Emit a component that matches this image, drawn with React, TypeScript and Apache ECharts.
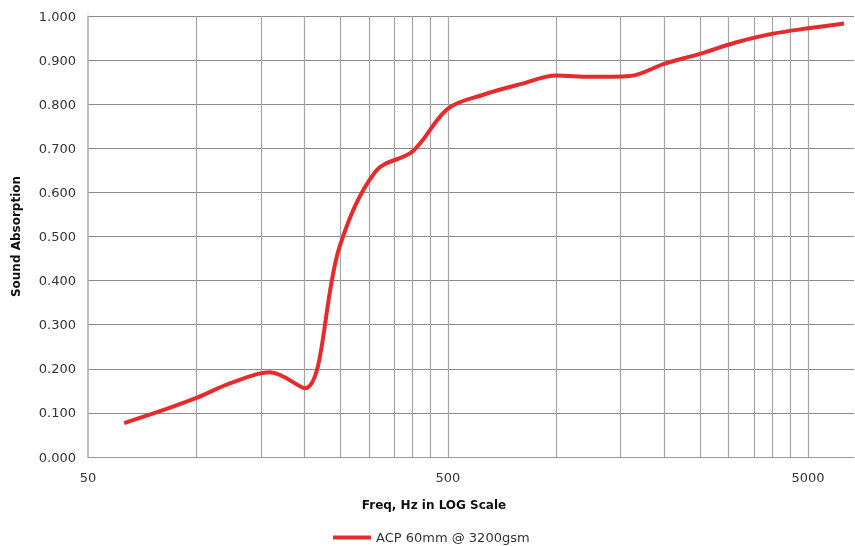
import React, { useEffect, useRef } from "react";
import * as echarts from "echarts";

const frequencies = [63, 80, 100, 125, 160, 200, 250, 315, 400, 500, 630, 800, 1000, 1250, 1600, 2000, 2500, 3150, 4000, 5000, 6300];
const absorption = [0.077, 0.105, 0.134, 0.168, 0.192, 0.156, 0.477, 0.648, 0.694, 0.79, 0.822, 0.846, 0.865, 0.862, 0.864, 0.892, 0.914, 0.94, 0.96, 0.972, 0.983];
const gridFrequencies = [100, 150, 200, 250, 300, 350, 400, 450, 500, 1000, 1500, 2000, 2500, 3000, 3500, 4000, 4500, 5000];
const baseFreq = 50;
const seriesName = "ACP 60mm @ 3200gsm";
const FONT = "'DejaVu Sans', 'Noto Sans', sans-serif";

const toX = (f: number) => Math.log10(f / baseFreq);

export default function App() {
  const ref = useRef<HTMLDivElement>(null);
  useEffect(() => {
    if (!ref.current) return;
    const chart = echarts.init(ref.current, undefined, { renderer: "svg" });
    chart.setOption({
      animation: false,
      textStyle: { fontFamily: FONT },
      grid: { left: 88, right: 1, top: 16, bottom: 89 },
      legend: {
        data: [seriesName],
        left: 328,
        top: 526,
        icon: "rect",
        itemWidth: 38,
        itemHeight: 4,
        itemGap: 10,
        textStyle: { fontFamily: FONT, fontSize: 13, color: "#333" },
      },
      graphic: [
        {
          type: "text",
          x: 434,
          y: 505,
          style: {
            text: "Freq, Hz in LOG Scale",
            fontFamily: FONT,
            fontSize: 12,
            fontWeight: "bold",
            fill: "#111",
            textAlign: "center",
            textVerticalAlign: "middle",
          },
        },
      ],
      xAxis: {
        type: "value",
        min: 0,
        max: 2.128,
        interval: 1,
        axisLine: { show: true, lineStyle: { color: "#999", width: 1 } },
        axisTick: { show: false },
        splitLine: { show: false },
        axisLabel: {
          showMaxLabel: false,
          margin: 14,
          fontSize: 13,
          color: "#333",
          fontFamily: FONT,
          formatter: (v: number) => String(Math.round(baseFreq * Math.pow(10, v))),
        },
      },
      yAxis: {
        type: "value",
        min: 0,
        max: 1,
        interval: 0.1,
        name: "Sound Absorption",
        nameLocation: "middle",
        nameGap: 66,
        nameRotate: 90,
        nameTextStyle: { fontFamily: FONT, fontSize: 12, fontWeight: "bold", color: "#111" },
        axisLine: { show: true, lineStyle: { color: "#aaa", width: 1.5 } },
        axisTick: { show: false },
        splitLine: { show: true, lineStyle: { color: "#8c8c8c", width: 1 } },
        axisLabel: {
          margin: 12,
          fontSize: 13,
          color: "#333",
          fontFamily: FONT,
          formatter: (v: number) => v.toFixed(3),
        },
      },
      series: [
        {
          name: "grid",
          type: "line",
          data: [],
          z: 1,
          silent: true,
          markLine: {
            silent: true,
            symbol: "none",
            label: { show: false },
            lineStyle: { color: "#a6a6a6", width: 1.2, type: "solid" },
            data: gridFrequencies.map((f) => ({ xAxis: toX(f) })),
          },
        },
        {
          name: seriesName,
          type: "line",
          z: 5,
          smooth: 0.35,
          showSymbol: false,
          symbol: "none",
          lineStyle: { color: "#e52b2b", width: 4 },
          itemStyle: { color: "#e52b2b" },
          data: frequencies.map((f, i) => [toX(f), absorption[i]]),
        },
      ],
    });
    return () => chart.dispose();
  }, []);
  return <div ref={ref} style={{ position: "fixed", left: 0, top: 0, width: 855, height: 546 }} />;
}
